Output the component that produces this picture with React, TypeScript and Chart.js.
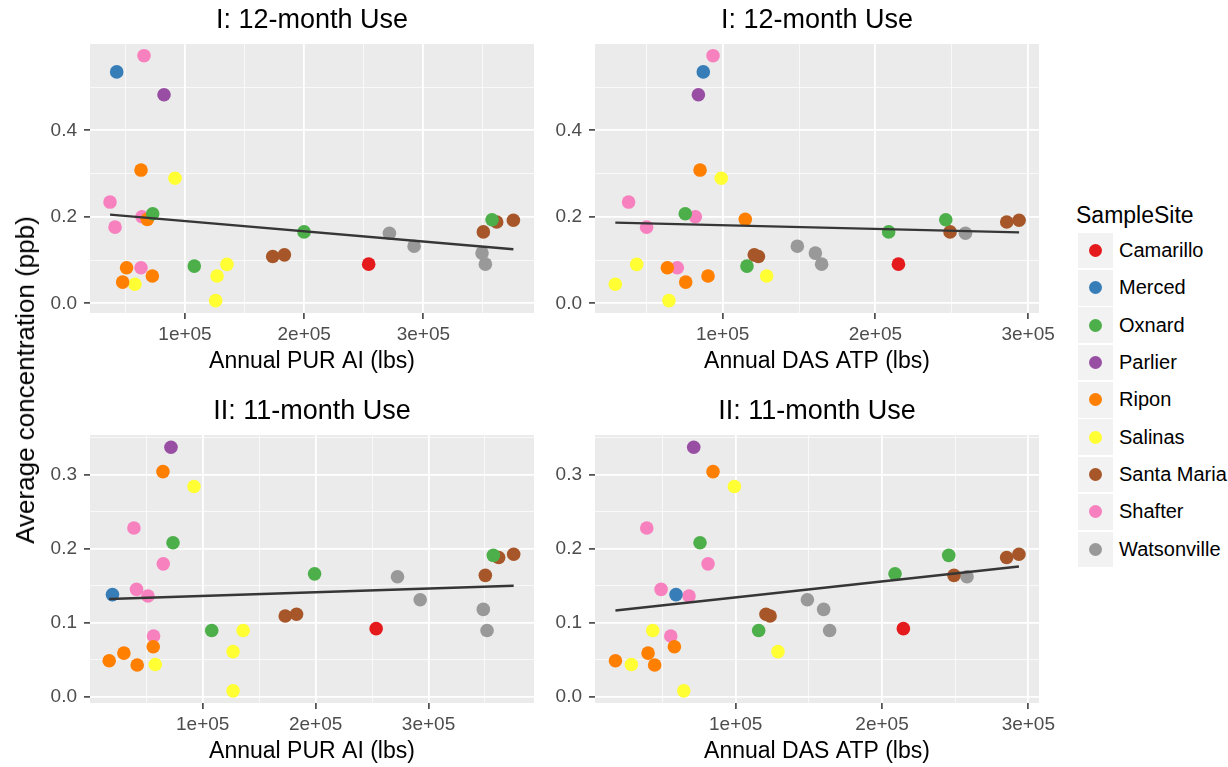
import React, { useEffect, useRef } from 'react';
import { Chart, registerables } from 'chart.js';

Chart.register(...registerables);

const FONT = "'Liberation Sans', Arial, sans-serif";

// ---------- data ----------
const sites = ['Camarillo', 'Merced', 'Oxnard', 'Parlier', 'Ripon', 'Salinas', 'Santa Maria', 'Shafter', 'Watsonville'];
const siteColors = ['#E41A1C', '#377EB8', '#4DAF4A', '#984EA3', '#FF7F00', '#FFFF33', '#A65628', '#F781BF', '#999999'];

// sample site of each point (same order in both rows)
const sampleSite = [
  'Camarillo', 'Merced',
  'Oxnard', 'Oxnard', 'Oxnard', 'Oxnard',
  'Parlier',
  'Ripon', 'Ripon', 'Ripon', 'Ripon', 'Ripon',
  'Salinas', 'Salinas', 'Salinas', 'Salinas', 'Salinas',
  'Santa Maria', 'Santa Maria', 'Santa Maria', 'Santa Maria', 'Santa Maria',
  'Shafter', 'Shafter', 'Shafter', 'Shafter', 'Shafter',
  'Watsonville', 'Watsonville', 'Watsonville', 'Watsonville',
];

// Row I: 12-month use
const conc12 = [
  0.0905, 0.535,
  0.207, 0.165, 0.193, 0.086,
  0.482,
  0.308, 0.194, 0.082, 0.063, 0.049,
  0.289, 0.090, 0.063, 0.006, 0.044,
  0.165, 0.188, 0.192, 0.108, 0.112,
  0.5725, 0.234, 0.200, 0.176, 0.082,
  0.162, 0.132, 0.116, 0.0905,
];
const purAI12 = [
  254100, 42700,
  72900, 199900, 357600, 107800,
  82400,
  63100, 68400, 51000, 72600, 47700,
  91600, 135200, 126900, 125700, 58000,
  350300, 361500, 375500, 173600, 183400,
  65600, 37100, 63900, 41300, 63100,
  271500, 292200, 349200, 352000,
];
const dasATP12 = [
  215100, 87300,
  75500, 208700, 246100, 115900,
  84100,
  85200, 114800, 63800, 90400, 75800,
  99100, 43700, 128800, 64800, 29700,
  248900, 286000, 294100, 123400, 120700,
  93700, 38400, 82100, 50200, 70300,
  259000, 148900, 160700, 164800,
];

// Row II: 11-month use
const conc11 = [
  0.092, 0.138,
  0.208, 0.166, 0.191, 0.0895,
  0.337,
  0.304, 0.0675, 0.059, 0.0486, 0.043,
  0.284, 0.0895, 0.061, 0.008, 0.0436,
  0.164, 0.188, 0.1925, 0.109, 0.1115,
  0.228, 0.1795, 0.145, 0.136, 0.082,
  0.162, 0.131, 0.118, 0.0895,
];
const purAI11 = [
  253600, 20100,
  73700, 199100, 357400, 108000,
  71900,
  64800, 56200, 30200, 17200, 42000,
  92300, 135800, 126900, 126900, 58000,
  350300, 362100, 375400, 173100, 183100,
  39100, 65100, 41400, 51500, 56500,
  272500, 292600, 348500, 351800,
];
const dasATP11 = [
  214600, 59200,
  75600, 208900, 245600, 115700,
  71300,
  84500, 58100, 40100, 17800, 44600,
  99100, 43300, 128900, 64500, 28700,
  249200, 285200, 293600, 123500, 120700,
  39200, 81100, 49000, 68100, 55600,
  258100, 149000, 160100, 164200,
];

// linear trend lines (start/end) per panel: [PUR 12, DAS 12, PUR 11, DAS 11]
const trendStartX = [37100, 29700, 17200, 17800];
const trendEndX = [375500, 294100, 375400, 293600];
const trendStartY = [0.205, 0.1865, 0.132, 0.1165];
const trendEndY = [0.125, 0.164, 0.150, 0.176];

// ticks
const xTickValues = [100000, 200000, 300000];
const xTickLabels = ['1e+05', '2e+05', '3e+05'];
const xMinorValues = [50000, 150000, 250000, 350000];
const yTickValues12 = [0, 0.2, 0.4];
const yTickLabels12 = ['0.0', '0.2', '0.4'];
const yMinorValues12 = [0.1, 0.3, 0.5];
const yTickValues11 = [0, 0.1, 0.2, 0.3];
const yTickLabels11 = ['0.0', '0.1', '0.2', '0.3'];
const yMinorValues11 = [0.05, 0.15, 0.25, 0.35];

const panelTitles = ['I: 12-month Use', 'I: 12-month Use', 'II: 11-month Use', 'II: 11-month Use'];
const xAxisTitles = ['Annual PUR AI (lbs)', 'Annual DAS ATP (lbs)', 'Annual PUR AI (lbs)', 'Annual DAS ATP (lbs)'];

// axis limits per panel
const xMins = [20300, 16400, 200, 3830];
const xMaxs = [392800, 307140, 393400, 307300];
const yMins = [-0.0225, -0.0225, -0.0084, -0.0084];
const yMaxs = [0.5995, 0.5995, 0.3535, 0.3535];

// ---------- layout ----------
const Y_AXIS_W = 90;
const X_AXIS_H = 64;
const TITLE_SIZE = 27;
const TITLE_PAD_TOP = 3.6;
const TITLE_PAD_BOTTOM = 7;
const RIGHT_PAD = 30;
const canvasLefts = [0, 505, 0, 505];
const canvasTops = [1, 1, 392, 392];
const areaHeights = [269, 269, 268, 268];
const AREA_W = 444;

function findIdx(values: number[], v: number): number {
  return values.findIndex((t) => Math.abs(t - v) < 1e-6 * Math.max(1, Math.abs(t)));
}

const bgPlugin = {
  id: 'panelBg',
  beforeDraw(chart: any) {
    const { ctx, chartArea: a } = chart;
    ctx.save();
    ctx.fillStyle = '#EBEBEB';
    ctx.fillRect(a.left, a.top, a.right - a.left, a.bottom - a.top);
    ctx.restore();
  },
};

function Panel({ idx }: { idx: number }) {
  const ref = useRef<HTMLCanvasElement | null>(null);
  const width = Y_AXIS_W + AREA_W + RIGHT_PAD;
  const height = 43 + areaHeights[idx] + X_AXIS_H;

  useEffect(() => {
    const isRow12 = idx < 2;
    const xs = idx === 0 ? purAI12 : idx === 1 ? dasATP12 : idx === 2 ? purAI11 : dasATP11;
    const ys = isRow12 ? conc12 : conc11;
    const yVals = isRow12 ? yTickValues12 : yTickValues11;
    const yLabs = isRow12 ? yTickLabels12 : yTickLabels11;
    const yMinor = isRow12 ? yMinorValues12 : yMinorValues11;
    const xMin = xMins[idx];
    const xMax = xMaxs[idx];
    const yMin = yMins[idx];
    const yMax = yMaxs[idx];

    const datasets: any[] = [
      {
        label: 'trend',
        data: [
          { x: trendStartX[idx], y: trendStartY[idx] },
          { x: trendEndX[idx], y: trendEndY[idx] },
        ],
        showLine: true,
        borderColor: '#363636',
        borderWidth: 2.4,
        pointRadius: 0,
        pointHoverRadius: 0,
        order: 0,
      },
    ];
    sites.forEach((s, si) => {
      const pts: { x: number; y: number }[] = [];
      sampleSite.forEach((name, i) => {
        if (name === s) pts.push({ x: xs[i], y: ys[i] });
      });
      datasets.push({
        label: s,
        data: pts,
        backgroundColor: siteColors[si],
        borderColor: siteColors[si],
        borderWidth: 0,
        pointRadius: 6.8,
        pointHoverRadius: 6.8,
        order: 1,
      });
    });

    const xAll = [...xTickValues, ...xMinorValues].filter((v) => v > xMin && v < xMax).sort((a, b) => a - b);
    const yAll = [...yVals, ...yMinor].filter((v) => v > yMin && v < yMax).sort((a, b) => a - b);
    const xMajor = (c: any) => !!c.tick && findIdx(xTickValues, c.tick.value) >= 0;
    const yMajor = (c: any) => !!c.tick && findIdx(yVals, c.tick.value) >= 0;

    const chart = new Chart(ref.current as HTMLCanvasElement, {
      type: 'scatter',
      data: { datasets },
      plugins: [bgPlugin],
      options: {
        animation: false,
        responsive: false,
        maintainAspectRatio: false,
        devicePixelRatio: 1,
        events: [],
        layout: { padding: { left: 0, top: 0, right: RIGHT_PAD, bottom: 0 }, autoPadding: false },
        plugins: {
          legend: { display: false },
          tooltip: { enabled: false },
          title: {
            display: true,
            text: panelTitles[idx],
            fullSize: false,
            color: '#000000',
            font: { size: TITLE_SIZE, family: FONT, weight: 'normal', lineHeight: 1.2 },
            padding: { top: TITLE_PAD_TOP, bottom: TITLE_PAD_BOTTOM },
          },
        },
        scales: {
          x: {
            type: 'linear',
            position: 'bottom',
            min: xMin,
            max: xMax,
            border: { display: false },
            afterBuildTicks: (s: any) => {
              s.ticks = xAll.map((v) => ({ value: v }));
            },
            afterFit: (s: any) => {
              s.height = X_AXIS_H;
              s.paddingLeft = 0;
              s.paddingRight = 0;
              s.paddingTop = 0;
              s.paddingBottom = 0;
            },
            ticks: {
              autoSkip: false,
              maxRotation: 0,
              minRotation: 0,
              padding: 4,
              color: '#4D4D4D',
              font: { size: 19, family: FONT },
              callback: (v: any) => {
                const i = findIdx(xTickValues, Number(v));
                return i >= 0 ? xTickLabels[i] : '';
              },
            },
            grid: {
              color: (c: any) => (xMajor(c) ? '#FFFFFF' : 'rgba(255,255,255,0.7)'),
              lineWidth: (c: any) => (xMajor(c) ? 1.8 : 1),
              tickLength: 6,
              tickWidth: 1.5,
              tickColor: (c: any) => (xMajor(c) ? '#333333' : 'rgba(0,0,0,0)'),
            },
            title: {
              display: true,
              text: xAxisTitles[idx],
              color: '#000000',
              font: { size: 23, family: FONT, lineHeight: 1.2 },
              padding: { top: 0, bottom: 1.5 },
            },
          },
          y: {
            type: 'linear',
            position: 'left',
            min: yMin,
            max: yMax,
            border: { display: false },
            afterBuildTicks: (s: any) => {
              s.ticks = yAll.map((v) => ({ value: v }));
            },
            afterFit: (s: any) => {
              s.width = Y_AXIS_W;
              s.paddingLeft = 0;
              s.paddingRight = 0;
              s.paddingTop = 0;
              s.paddingBottom = 0;
            },
            ticks: {
              autoSkip: false,
              padding: 7,
              color: '#4D4D4D',
              font: { size: 19, family: FONT },
              callback: (v: any) => {
                const i = findIdx(yVals, Number(v));
                return i >= 0 ? yLabs[i] : '';
              },
            },
            grid: {
              color: (c: any) => (yMajor(c) ? '#FFFFFF' : 'rgba(255,255,255,0.7)'),
              lineWidth: (c: any) => (yMajor(c) ? 1.8 : 1),
              tickLength: 6,
              tickWidth: 1.5,
              tickColor: (c: any) => (yMajor(c) ? '#333333' : 'rgba(0,0,0,0)'),
            },
          },
        },
      } as any,
    });
    return () => chart.destroy();
  }, [idx]);

  return (
    <canvas
      ref={ref}
      width={width}
      height={height}
      style={{ position: 'absolute', left: canvasLefts[idx], top: canvasTops[idx], width, height }}
    />
  );
}

const KEY_TOP = 232.7;
const KEY_PITCH = 37.35;

export default function App() {
  return (
    <div
      style={{
        position: 'fixed',
        left: 0,
        top: 0,
        width: 1228,
        height: 767,
        background: '#FFFFFF',
        fontFamily: FONT,
        overflow: 'hidden',
      }}
    >
      {[0, 1, 2, 3].map((i) => (
        <Panel key={i} idx={i} />
      ))}
      <div
        style={{
          position: 'absolute',
          left: 25,
          top: 380,
          transform: 'translate(-50%, -50%) rotate(-90deg)',
          fontSize: 26,
          lineHeight: '26px',
          whiteSpace: 'nowrap',
          color: '#000000',
        }}
      >
        Average concentration (ppb)
      </div>
      <div
        style={{
          position: 'absolute',
          left: 1076,
          top: 203.8,
          fontSize: 23,
          lineHeight: '23px',
          whiteSpace: 'nowrap',
          color: '#000000',
        }}
      >
        SampleSite
      </div>
      {sites.map((s, i) => (
        <React.Fragment key={s}>
          <div
            style={{
              position: 'absolute',
              left: 1078,
              top: KEY_TOP + i * KEY_PITCH,
              width: 35,
              height: 35.5,
              background: '#F2F2F2',
            }}
          >
            <div
              style={{
                position: 'absolute',
                left: 11,
                top: 11.25,
                width: 13,
                height: 13,
                borderRadius: '50%',
                background: siteColors[i],
              }}
            />
          </div>
          <div
            style={{
              position: 'absolute',
              left: 1119,
              top: KEY_TOP + i * KEY_PITCH,
              height: 35.5,
              display: 'flex',
              alignItems: 'center',
              fontSize: 20,
              whiteSpace: 'nowrap',
              color: '#000000',
            }}
          >
            {s}
          </div>
        </React.Fragment>
      ))}
    </div>
  );
}
